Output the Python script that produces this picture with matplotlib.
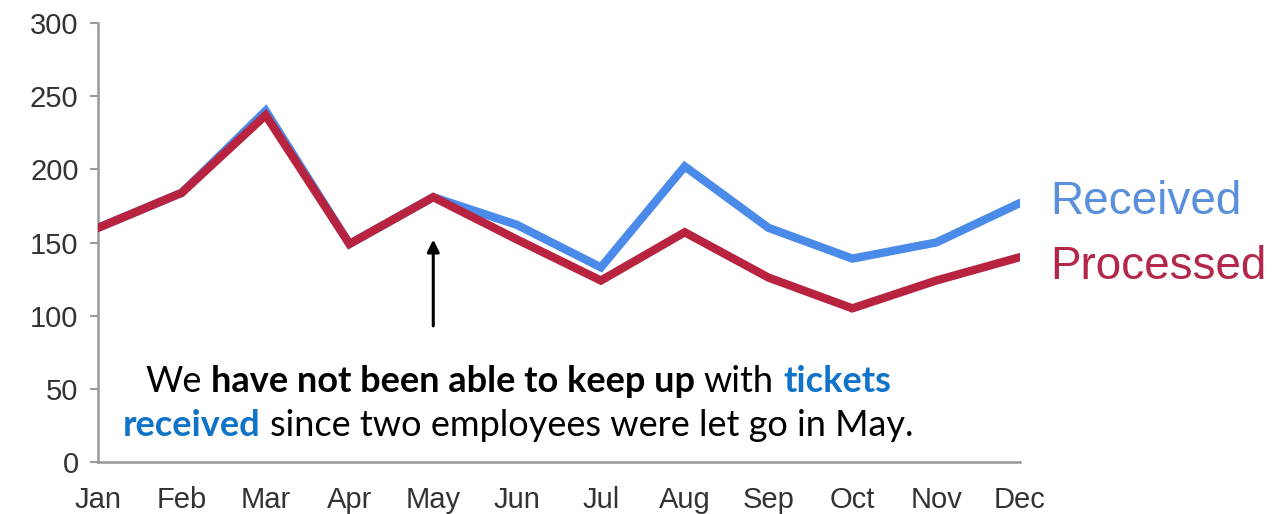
import matplotlib
matplotlib.use("Agg")
import matplotlib.pyplot as plt

months = ["Jan", "Feb", "Mar", "Apr", "May", "Jun", "Jul", "Aug", "Sep", "Oct", "Nov", "Dec"]
received = [160, 184, 240, 149, 181, 162, 133, 202, 160, 139, 150, 177]
processed = [160, 184, 237, 149, 181, 152, 124, 157, 126, 105, 124, 140]
yticks = [0, 50, 100, 150, 200, 250, 300]

BLUE = "#4a8ae9"
RED = "#b8243f"
BLUE_TXT = "#5a8fdc"
RED_TXT = "#b3284a"
TXT_BLUE = "#0f73c7"
GRAY = "#333333"

fig = plt.figure(figsize=(12.81, 5.14), dpi=100)
ax = fig.add_axes([98/1281, 52/514, (1020-98)/1281, (462-23)/514])

x = list(range(len(months)))
ax.plot(x, received, color=BLUE, lw=6, solid_joinstyle="miter", solid_capstyle="round", zorder=3)
ax.plot(x, processed, color=RED, lw=6, solid_joinstyle="miter", solid_capstyle="round", zorder=4)

ax.set_xlim(0, 11)
ax.set_ylim(0, 300)
ax.set_xticks(x)
ax.set_xticklabels(months)
ax.set_yticks(yticks)

for s in ["top", "right"]:
    ax.spines[s].set_visible(False)
for s in ["left", "bottom"]:
    ax.spines[s].set_color("#999999")
    ax.spines[s].set_linewidth(1.8)
    ax.spines[s].set_zorder(1)

ax.tick_params(axis="y", length=6, width=1.5, color="#999999", pad=8,
               labelsize=21, labelcolor=GRAY)
ax.tick_params(axis="x", length=0, pad=17, labelsize=21, labelcolor=GRAY)
for lab in ax.get_xticklabels() + ax.get_yticklabels():
    lab.set_family("Liberation Sans")

ax.text(11.36, 178, "Received", color=BLUE_TXT, fontsize=33, family="Liberation Sans",
        va="center", ha="left", clip_on=False)
ax.text(11.36, 133, "Processed", color=RED_TXT, fontsize=33, family="Liberation Sans",
        va="center", ha="left", clip_on=False)

ax.annotate("", xy=(4, 152), xytext=(4, 93),
            arrowprops=dict(arrowstyle="-|>", color="black", lw=2.2, mutation_scale=18,
                            shrinkA=0, shrinkB=0))

# Mixed-style annotation text
lines = [
    [("We", "normal", "black"), ("have not been able to keep up", "bold", "black"),
     ("with", "normal", "black"), ("tickets", "bold", TXT_BLUE)],
    [("received", "bold", TXT_BLUE), ("since two employees were let go in May.", "normal", "black")],
]
baselines = [392, 436]
center_x = 518
fs = 26
fam = "Lato"

fig.canvas.draw()
renderer = fig.canvas.get_renderer()

def width_of(s, weight):
    t = fig.text(0, 0, s, fontsize=fs, family=fam, weight=weight)
    w = t.get_window_extent(renderer).width
    t.remove()
    return w

space_w = width_of("a a", "normal") - width_of("aa", "normal")

for pieces, by in zip(lines, baselines):
    widths = [width_of(s, wt) for s, wt, c in pieces]
    total = sum(widths) + space_w * (len(pieces) - 1)
    cx = center_x - total / 2
    for (s, wt, c), w in zip(pieces, widths):
        fig.text(cx / 1281, 1 - by / 514, s, fontsize=fs, family=fam, weight=wt,
                 color=c, ha="left", va="baseline")
        cx += w + space_w

fig.savefig("out.png", dpi=100)
